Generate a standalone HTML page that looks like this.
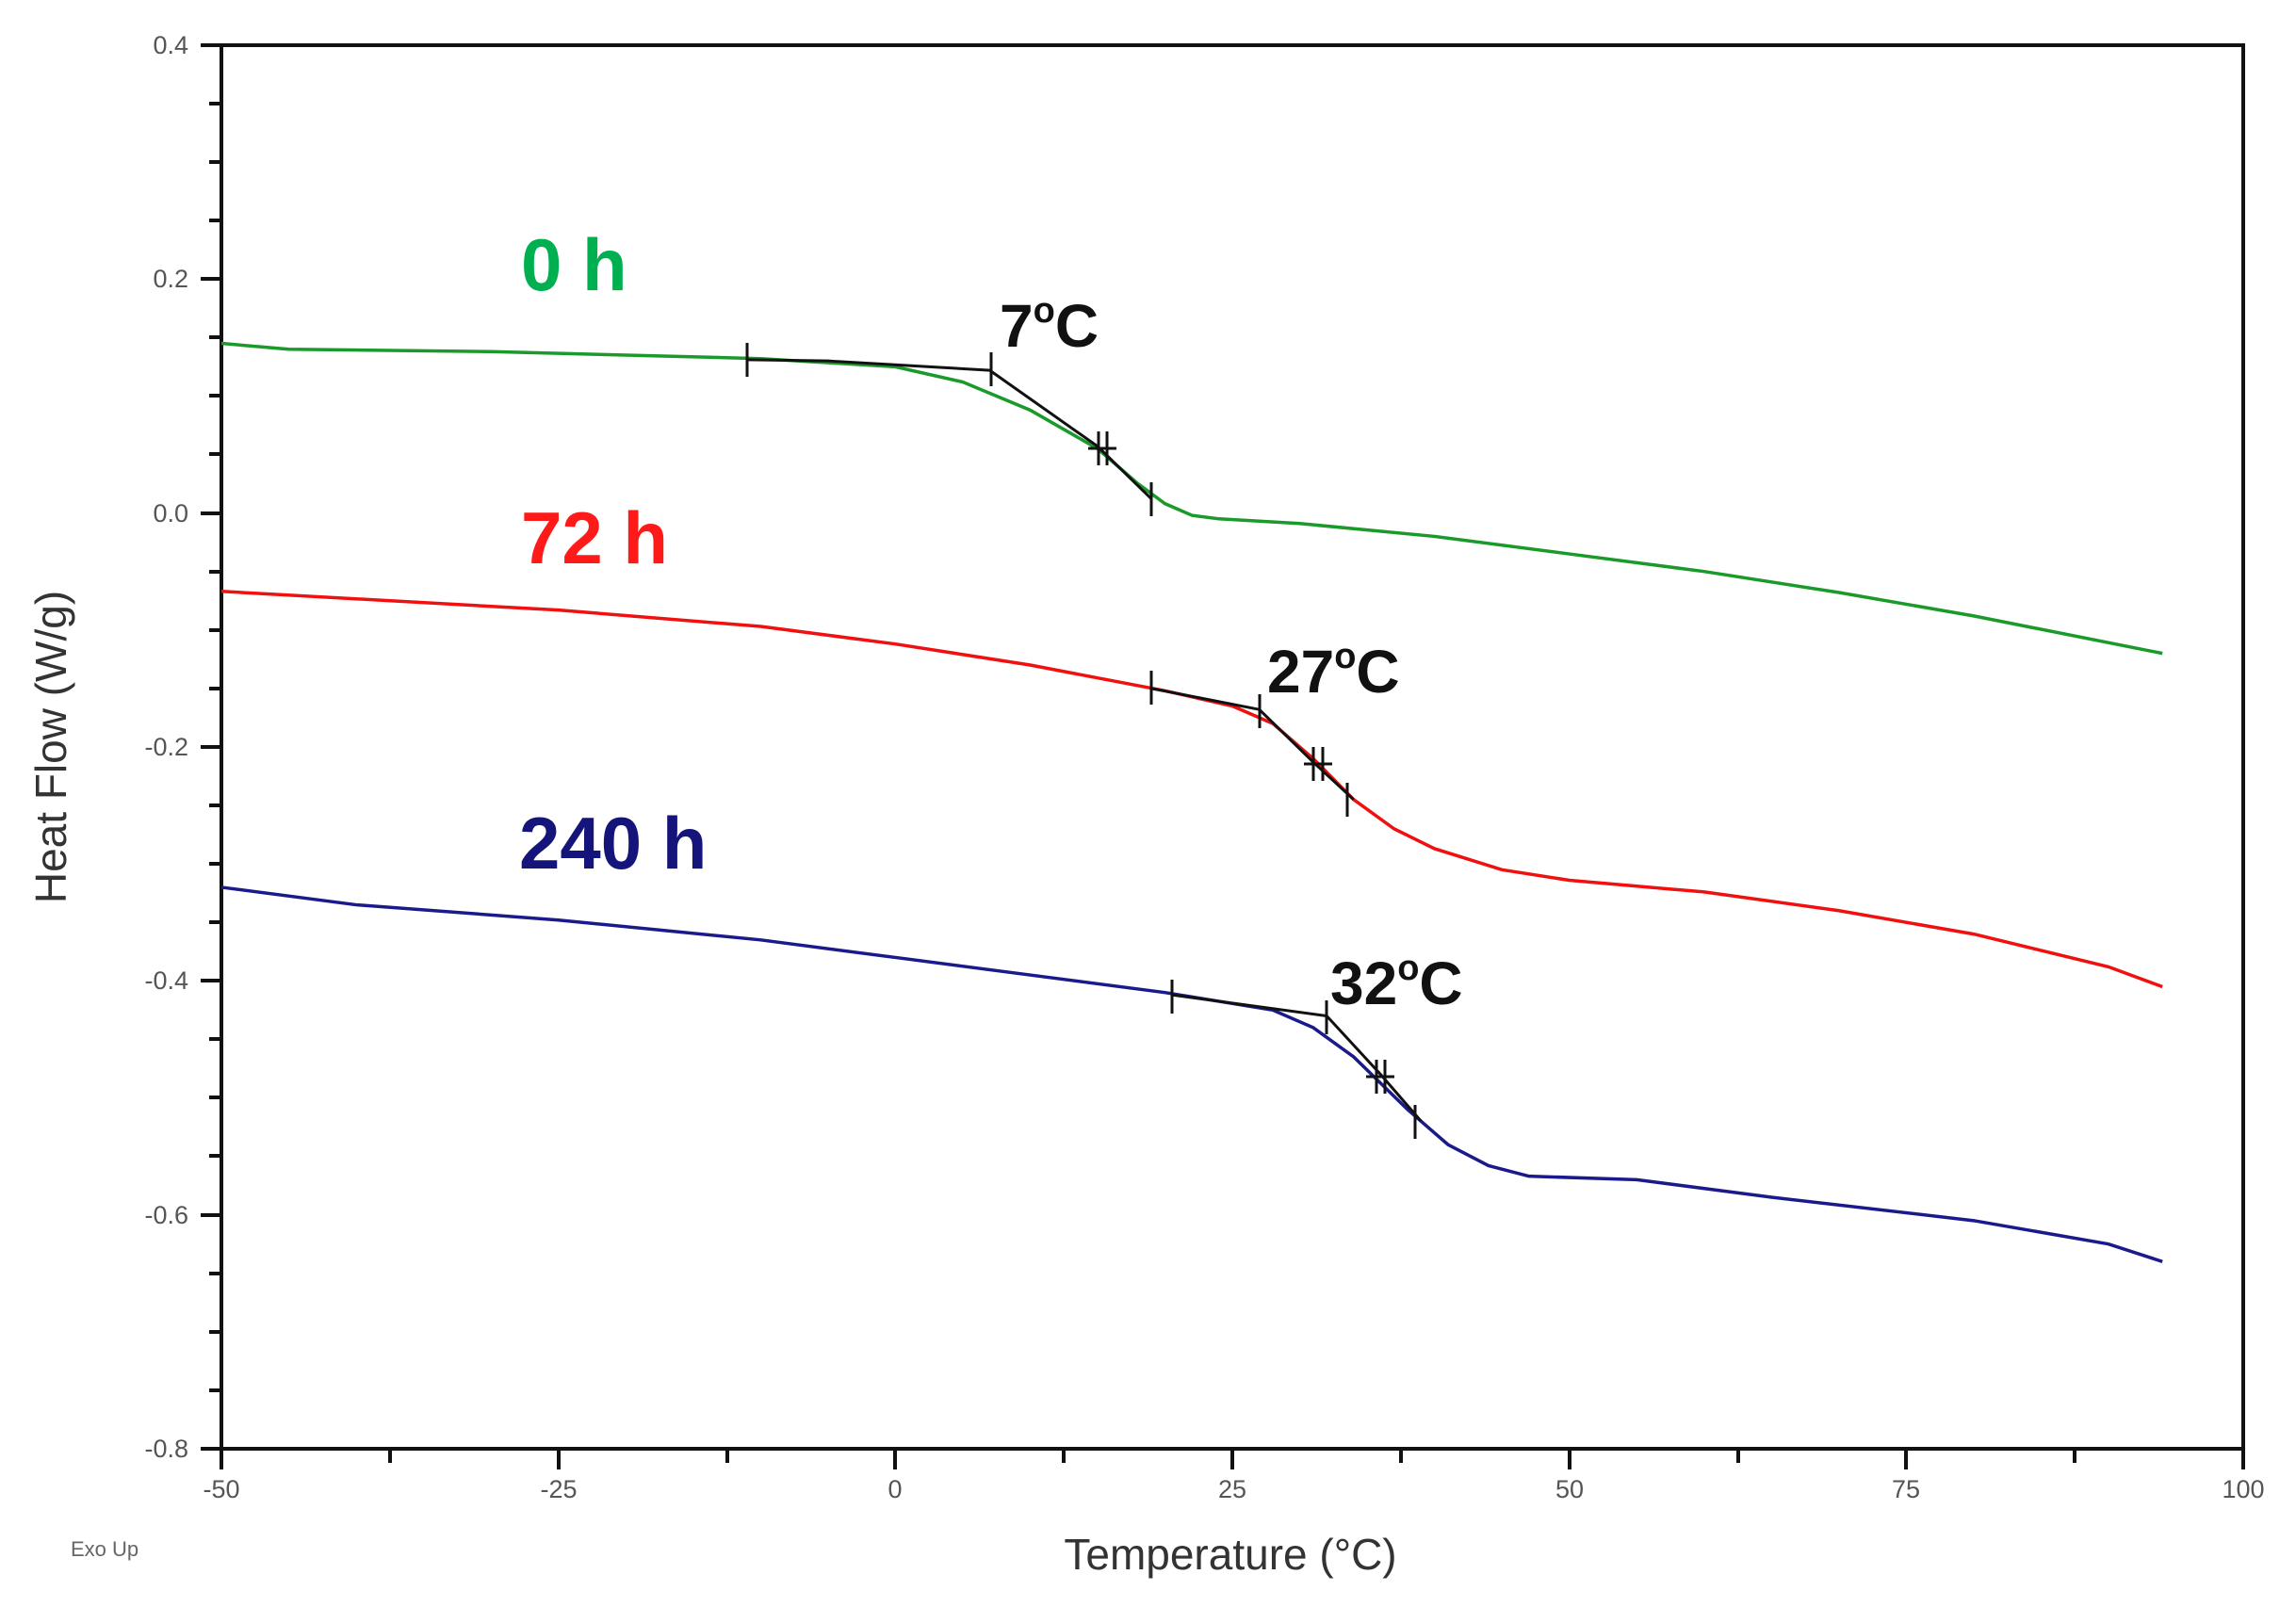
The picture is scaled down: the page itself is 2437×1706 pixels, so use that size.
<!DOCTYPE html>
<html><head><meta charset="utf-8"><style>
html,body{margin:0;padding:0;background:#fff;width:2437px;height:1706px;overflow:hidden}
svg{display:block}
text{font-family:"Liberation Sans",Arial,sans-serif}
</style></head><body>
<svg width="2437" height="1706" viewBox="0 0 2437 1706" xmlns="http://www.w3.org/2000/svg">
<rect width="2437" height="1706" fill="#fff"/>
<rect x="235" y="48" width="2146" height="1490" fill="none" stroke="#111" stroke-width="4"/>
<g stroke="#111" stroke-width="4">
<line x1="213" y1="48" x2="235" y2="48"/><line x1="222" y1="110" x2="235" y2="110"/><line x1="222" y1="172" x2="235" y2="172"/><line x1="222" y1="234" x2="235" y2="234"/>
<line x1="213" y1="296" x2="235" y2="296"/><line x1="222" y1="358" x2="235" y2="358"/><line x1="222" y1="420" x2="235" y2="420"/><line x1="222" y1="482" x2="235" y2="482"/>
<line x1="213" y1="545" x2="235" y2="545"/><line x1="222" y1="607" x2="235" y2="607"/><line x1="222" y1="669" x2="235" y2="669"/><line x1="222" y1="731" x2="235" y2="731"/>
<line x1="213" y1="793" x2="235" y2="793"/><line x1="222" y1="855" x2="235" y2="855"/><line x1="222" y1="917" x2="235" y2="917"/><line x1="222" y1="979" x2="235" y2="979"/>
<line x1="213" y1="1041" x2="235" y2="1041"/><line x1="222" y1="1103" x2="235" y2="1103"/><line x1="222" y1="1165" x2="235" y2="1165"/><line x1="222" y1="1227" x2="235" y2="1227"/>
<line x1="213" y1="1290" x2="235" y2="1290"/><line x1="222" y1="1352" x2="235" y2="1352"/><line x1="222" y1="1414" x2="235" y2="1414"/><line x1="222" y1="1476" x2="235" y2="1476"/>
<line x1="213" y1="1538" x2="235" y2="1538"/>
<line x1="235" y1="1538" x2="235" y2="1560"/><line x1="414" y1="1538" x2="414" y2="1553"/>
<line x1="593" y1="1538" x2="593" y2="1560"/><line x1="772" y1="1538" x2="772" y2="1553"/>
<line x1="950" y1="1538" x2="950" y2="1560"/><line x1="1129" y1="1538" x2="1129" y2="1553"/>
<line x1="1308" y1="1538" x2="1308" y2="1560"/><line x1="1487" y1="1538" x2="1487" y2="1553"/>
<line x1="1666" y1="1538" x2="1666" y2="1560"/><line x1="1845" y1="1538" x2="1845" y2="1553"/>
<line x1="2023" y1="1538" x2="2023" y2="1560"/><line x1="2202" y1="1538" x2="2202" y2="1553"/>
<line x1="2381" y1="1538" x2="2381" y2="1560"/>
</g>
<g fill="#555" font-size="27" text-anchor="end">
<text x="200" y="57">0.4</text><text x="200" y="305">0.2</text><text x="200" y="554">0.0</text>
<text x="200" y="802">-0.2</text><text x="200" y="1050">-0.4</text><text x="200" y="1299">-0.6</text><text x="200" y="1547">-0.8</text>
</g>
<g fill="#555" font-size="27" text-anchor="middle">
<text x="235" y="1590">-50</text><text x="593" y="1590">-25</text><text x="950" y="1590">0</text>
<text x="1308" y="1590">25</text><text x="1666" y="1590">50</text><text x="2023" y="1590">75</text><text x="2381" y="1590">100</text>
</g>
<text x="1306" y="1666" font-size="46" fill="#333" text-anchor="middle">Temperature (°C)</text>
<text transform="translate(70,793) rotate(-90)" font-size="46" fill="#333" text-anchor="middle">Heat Flow (W/g)</text>
<text x="75" y="1652" font-size="22" fill="#666">Exo Up</text>
<g transform="matrix(14.307,0,0,-1241.7,950.35,544.6)" fill="none" stroke-width="3.5">
<polyline vector-effect="non-scaling-stroke" stroke="#1a9a2a" points="-50,0.145 -45,0.14 -30,0.138 -10,0.132 0,0.125 5,0.112 10,0.088 15,0.055 18,0.025 20,0.008 22,-0.002 24,-0.005 30,-0.009 40,-0.02 50,-0.035 60,-0.05 70,-0.068 80,-0.088 94,-0.12"/>
<polyline vector-effect="non-scaling-stroke" stroke="#f01010" points="-50,-0.067 -25,-0.083 -10,-0.097 0,-0.112 10,-0.13 20,-0.152 25,-0.165 28,-0.18 31,-0.21 34,-0.245 37,-0.27 40,-0.287 45,-0.305 50,-0.314 60,-0.324 70,-0.34 80,-0.36 90,-0.388 94,-0.405"/>
<polyline vector-effect="non-scaling-stroke" stroke="#1a1a8c" points="-50,-0.32 -40,-0.335 -25,-0.348 -10,-0.365 0,-0.38 10,-0.395 20,-0.41 28,-0.425 31,-0.44 34,-0.465 38,-0.51 41,-0.54 44,-0.558 47,-0.567 55,-0.57 65,-0.585 80,-0.605 90,-0.625 94,-0.64"/>
<g stroke="#111" stroke-width="3">
<polyline vector-effect="non-scaling-stroke" points="-11,0.131 -5,0.13 7,0.122 15,0.057 19,0.012"/>
<polyline vector-effect="non-scaling-stroke" points="19,-0.15 27,-0.168 31,-0.213 34,-0.245"/>
<polyline vector-effect="non-scaling-stroke" points="20.5,-0.412 32,-0.43 36,-0.48 39,-0.52"/>
</g>
</g>
<g stroke="#111" stroke-width="3">
<line x1="793" y1="364" x2="793" y2="400"/><line x1="1052" y1="374" x2="1052" y2="410"/>
<line x1="1166" y1="458" x2="1166" y2="494"/><line x1="1175" y1="458" x2="1175" y2="494"/><line x1="1155" y1="476" x2="1185" y2="476"/>
<line x1="1222" y1="512" x2="1222" y2="548"/>
<line x1="1222" y1="712" x2="1222" y2="748"/><line x1="1337" y1="737" x2="1337" y2="773"/>
<line x1="1394" y1="793" x2="1394" y2="829"/><line x1="1404" y1="793" x2="1404" y2="829"/><line x1="1384" y1="811" x2="1414" y2="811"/>
<line x1="1430" y1="831" x2="1430" y2="867"/>
<line x1="1244" y1="1040" x2="1244" y2="1076"/><line x1="1408" y1="1062" x2="1408" y2="1098"/>
<line x1="1461" y1="1125" x2="1461" y2="1161"/><line x1="1470" y1="1125" x2="1470" y2="1161"/><line x1="1450" y1="1143" x2="1480" y2="1143"/>
<line x1="1502" y1="1173" x2="1502" y2="1209"/>
</g>
<g font-weight="bold" font-size="78">
<text x="553" y="308" fill="#00b050">0 h</text>
<text x="553" y="598" fill="#ff1a1a">72 h</text>
<text x="551" y="922" fill="#14147a">240 h</text>
</g>
<g font-weight="bold" font-size="64" fill="#111">
<text x="1061" y="368">7<tspan font-size="38" dy="-26">o</tspan><tspan dy="26">C</tspan></text>
<text x="1345" y="735">27<tspan font-size="38" dy="-26">o</tspan><tspan dy="26">C</tspan></text>
<text x="1412" y="1066">32<tspan font-size="38" dy="-26">o</tspan><tspan dy="26">C</tspan></text>
</g>
</svg>
</body></html>
